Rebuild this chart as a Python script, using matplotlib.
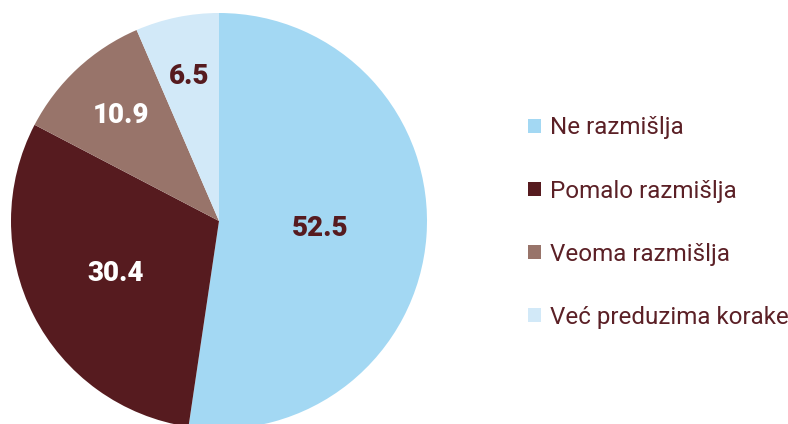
import matplotlib.pyplot as plt
import numpy as np
from matplotlib.patches import Patch

categories = ['Ne razmišlja', 'Pomalo razmišlja', 'Veoma razmišlja', 'Već preduzima korake']
values = [52.5, 30.4, 10.9, 6.5]
colors = ['#a3d8f3', '#561b1f', '#98746a', '#d2e9f8']
label_colors = ['#561b1f', 'white', 'white', '#561b1f']
label_dist = [0.49, 0.56, 0.69, 0.71]
text_color = '#5b2026'

plt.rcParams['font.family'] = ['Roboto', 'DejaVu Sans']

fig = plt.figure(figsize=(7.88, 4.24), dpi=100)
ax = fig.add_axes([11 / 788, -5 / 424, 416 / 788, 416 / 424])
wedges, _ = ax.pie(values, colors=colors, startangle=90, counterclock=False,
                   wedgeprops=dict(linewidth=0))
ax.set_xlim(-1, 1)
ax.set_ylim(-1, 1)

for w, v, c, d in zip(wedges, values, label_colors, label_dist):
    ang = np.deg2rad((w.theta1 + w.theta2) / 2)
    ax.text(d * np.cos(ang), d * np.sin(ang), f'{v:.1f}', color=c,
            fontsize=20, fontweight='heavy', ha='center', va='center')

handles = [Patch(facecolor=c, edgecolor='none') for c in colors]
leg = fig.legend(handles, categories, loc='center left', bbox_to_anchor=(0.655, 0.475),
                 frameon=False, fontsize=17.4, handlelength=0.54, handleheight=0.54,
                 handletextpad=0.36, labelspacing=1.66, borderpad=0)
for t in leg.get_texts():
    t.set_color(text_color)

fig.savefig('out.png', dpi=100)
